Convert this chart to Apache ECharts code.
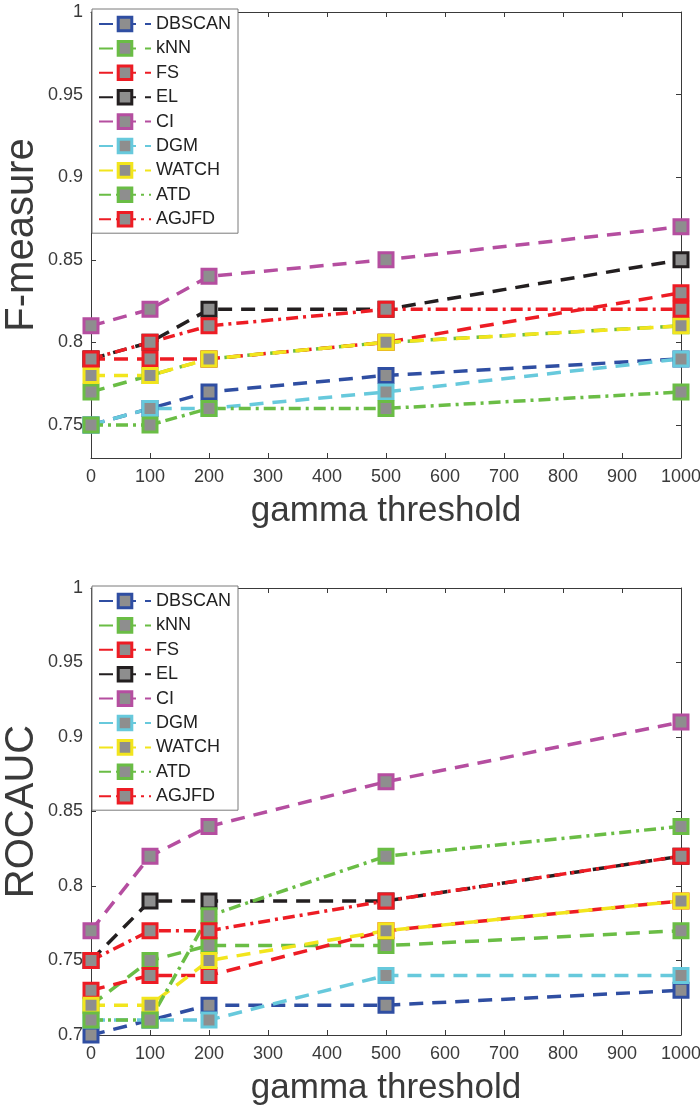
<!DOCTYPE html>
<html>
<head>
<meta charset="utf-8">
<script src="https://cdn.jsdelivr.net/npm/echarts@6/dist/echarts.min.js"></script>
<style>
  html, body { margin: 0; padding: 0; background: #fff; }
  #chart { width: 700px; height: 1112px; }
</style>
</head>
<body>
<div id="chart"></div>
<script>
// gamma threshold values on the x axis
const thresholds = [0, 100, 200, 500, 1000];
const methods = ['DBSCAN', 'kNN', 'FS', 'EL', 'CI', 'DGM', 'WATCH', 'ATD', 'AGJFD'];

// F-measure per method
const fDBSCAN = [0.75, 0.76, 0.77, 0.78, 0.79];
const fKNN    = [0.77, 0.78, 0.79, 0.80, 0.81];
const fFS     = [0.79, 0.79, 0.79, 0.80, 0.83];
const fEL     = [0.79, 0.80, 0.82, 0.82, 0.85];
const fCI     = [0.81, 0.82, 0.84, 0.85, 0.87];
const fDGM    = [0.75, 0.76, 0.76, 0.77, 0.79];
const fWATCH  = [0.78, 0.78, 0.79, 0.80, 0.81];
const fATD    = [0.75, 0.75, 0.76, 0.76, 0.77];
const fAGJFD  = [0.79, 0.80, 0.81, 0.82, 0.82];

// ROC AUC per method
const rDBSCAN = [0.70, 0.71, 0.72, 0.72, 0.73];
const rKNN    = [0.72, 0.75, 0.76, 0.76, 0.77];
const rFS     = [0.73, 0.74, 0.74, 0.77, 0.79];
const rEL     = [0.75, 0.79, 0.79, 0.79, 0.82];
const rCI     = [0.77, 0.82, 0.84, 0.87, 0.91];
const rDGM    = [0.71, 0.71, 0.71, 0.74, 0.74];
const rWATCH  = [0.72, 0.72, 0.75, 0.77, 0.79];
const rATD    = [0.71, 0.71, 0.78, 0.82, 0.84];
const rAGJFD  = [0.75, 0.77, 0.77, 0.79, 0.82];

// tick labels
const fTicks = [0.75, 0.8, 0.85, 0.9, 0.95, 1];
const rTicks = [0.7, 0.75, 0.8, 0.85, 0.9, 0.95, 1];
const xTicks = [0, 100, 200, 300, 400, 500, 600, 700, 800, 900, 1000];

const fData = [fDBSCAN, fKNN, fFS, fEL, fCI, fDGM, fWATCH, fATD, fAGJFD];
const rData = [rDBSCAN, rKNN, rFS, rEL, rCI, rDGM, rWATCH, rATD, rAGJFD];

const colors = ['#2f4ea2', '#6abd45', '#ed1c24', '#231f20', '#b54ea0',
                '#67c9dc', '#f2e51d', '#6abd45', '#ed1c24'];
const DASH = [14, 9];
const DASHDOT = [12, 5, 3, 5];
const dashes = [DASH, DASH, DASH, DASH, DASH, DASH, DASH, DASHDOT, DASHDOT];

const FONT = 'Liberation Sans, Arial, Helvetica, sans-serif';
const AX = '#3a3a3a';

function pairs(vals) {
  return thresholds.map((x, i) => [x, vals[i]]);
}

function makeSeries(data, xi, yi) {
  return methods.map((name, k) => ({
    name: name,
    type: 'line',
    xAxisIndex: xi,
    yAxisIndex: yi,
    data: pairs(data[k]),
    color: colors[k],
    symbol: 'rect',
    symbolSize: 14,
    showAllSymbol: true,
    clip: false,
    lineStyle: { color: colors[k], width: 3.5, type: dashes[k], cap: 'butt' },
    itemStyle: { color: '#8e8e8e', borderColor: colors[k], borderWidth: 3 },
    emphasis: { disabled: true },
    animation: false
  }));
}

function xMain(gi) {
  return {
    type: 'value', gridIndex: gi, min: 0, max: 1000, interval: 100,
    name: 'gamma threshold', nameLocation: 'middle', nameGap: 36, nameMoveOverlap: false,
    nameTextStyle: { fontFamily: FONT, fontSize: 35, color: AX },
    axisLine: { show: true, onZero: false, lineStyle: { color: AX, width: 1 } },
    axisTick: { show: true, inside: true, length: 5, lineStyle: { color: AX } },
    axisLabel: { show: true, margin: 10, fontFamily: FONT, fontSize: 18, color: AX,
                 customValues: xTicks, formatter: v => String(v) },
    splitLine: { show: false }
  };
}
function xTop(gi) {
  return {
    type: 'value', gridIndex: gi, position: 'top', min: 0, max: 1000, interval: 100,
    axisLine: { show: true, onZero: false, lineStyle: { color: AX, width: 1 } },
    axisTick: { show: true, inside: true, length: 5, lineStyle: { color: AX } },
    axisLabel: { show: false },
    splitLine: { show: false }
  };
}
function yMain(gi, name, lo, ticks) {
  return {
    type: 'value', gridIndex: gi, min: lo, max: 1,
    name: name, nameLocation: 'middle', nameGap: 49, nameMoveOverlap: false,
    nameTextStyle: { fontFamily: FONT, fontSize: 40, color: AX },
    axisLine: { show: true, onZero: false, lineStyle: { color: AX, width: 1 } },
    axisTick: { show: true, inside: true, length: 5, lineStyle: { color: AX },
                customValues: ticks },
    axisLabel: { show: true, margin: 8, fontFamily: FONT, fontSize: 18, color: AX,
                 customValues: ticks, formatter: v => String(+v.toFixed(2)) },
    splitLine: { show: false }
  };
}
function yRight(gi, lo, ticks) {
  return {
    type: 'value', gridIndex: gi, position: 'right', min: lo, max: 1,
    axisLine: { show: true, onZero: false, lineStyle: { color: AX, width: 1 } },
    axisTick: { show: true, inside: true, length: 5, lineStyle: { color: AX },
                customValues: ticks },
    axisLabel: { show: false },
    splitLine: { show: false }
  };
}
function legendAt(top) {
  return {
    data: methods,
    orient: 'vertical',
    left: 92,
    top: top,
    padding: [6, 7, 5, 6],
    itemWidth: 52,
    itemHeight: 17,
    itemGap: 6.4,
    backgroundColor: '#fff',
    borderColor: '#7a7a7a',
    borderWidth: 1,
    borderRadius: 0,
    selectedMode: false,
    itemStyle: { borderWidth: 3 },
    textStyle: { fontFamily: FONT, fontSize: 18, color: '#222', lineHeight: 17 }
  };
}

const chart = echarts.init(document.getElementById('chart'), null, { renderer: 'canvas' });
chart.setOption({
  animation: false,
  backgroundColor: '#fff',
  grid: [
    { left: 91, right: 19, top: 12, height: 446, containLabel: false, outerBoundsMode: 'none' },
    { left: 91, right: 19, top: 588, height: 447, containLabel: false, outerBoundsMode: 'none' }
  ],
  xAxis: [xMain(0), xTop(0), xMain(1), xTop(1)],
  yAxis: [
    yMain(0, 'F-measure', 0.73, fTicks), yRight(0, 0.73, fTicks),
    yMain(1, 'ROCAUC', 0.7, rTicks), yRight(1, 0.7, rTicks)
  ],
  legend: [legendAt(9), legendAt(586)],
  series: [].concat(makeSeries(fData, 0, 0), makeSeries(rData, 2, 2))
});
</script>
</body>
</html>
